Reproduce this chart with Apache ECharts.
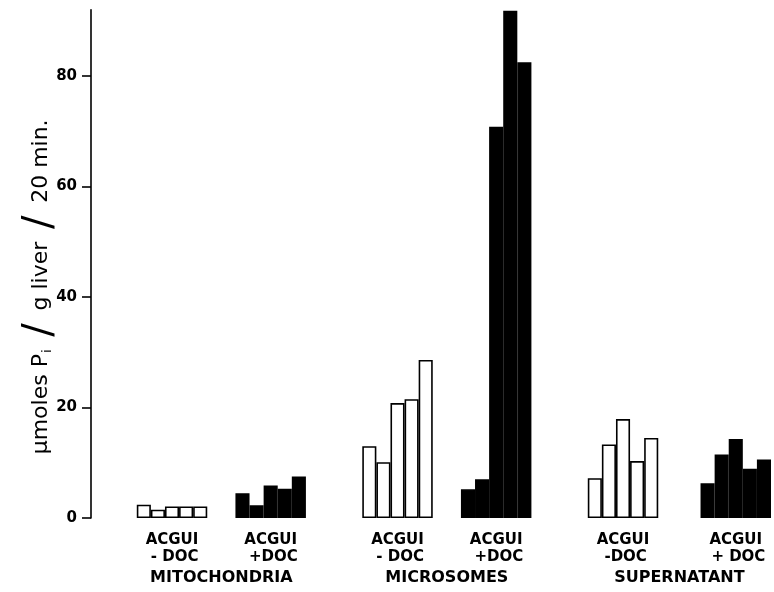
<!DOCTYPE html>
<html>
<head>
<meta charset="utf-8">
<script src="https://cdn.jsdelivr.net/npm/echarts@6/dist/echarts.min.js"></script>
<style>
  html, body { margin: 0; padding: 0; background: #fff; }
  #chart { width: 774px; height: 592px; }
</style>
</head>
<body>
<div id="chart"></div>
<script>
// values (umoles Pi / g liver / 20 min), 5 bars per group
var mitoMinus  = [2.4, 1.5, 2.1, 2.1, 2.1];
var mitoPlus   = [4.5, 2.3, 5.9, 5.3, 7.5];
var microMinus = [13.0, 10.1, 20.8, 21.5, 28.6];
var microPlus  = [5.2, 7.0, 70.8, 91.8, 82.5];
var superMinus = [7.2, 13.3, 17.9, 10.3, 14.5];
var superPlus  = [6.3, 11.5, 14.3, 8.9, 10.6];

var groupLabels = ['ACGUI\n - DOC', 'ACGUI\n +DOC', 'ACGUI\n - DOC', 'ACGUI\n +DOC', 'ACGUI\n -DOC', 'ACGUI\n + DOC'];
var fractionNames = ['MITOCHONDRIA', 'MICROSOMES', 'SUPERNATANT'];
var yTicks = [0, 20, 40, 60, 80];

// layout: empty slots before the first group and between groups
var leadBlank = 3;
var gapsAfter = [2, 4, 2, 4, 3, 0];

var groups = [mitoMinus, mitoPlus, microMinus, microPlus, superMinus, superPlus];
var filled = [false, true, false, true, false, true];

var cats = [], openData = [], solidData = [];
function blank() { cats.push(''); openData.push(null); solidData.push(null); }
for (var b = 0; b < leadBlank; b++) blank();
groups.forEach(function (g, gi) {
    g.forEach(function (v, i) {
        cats.push(i === 2 ? groupLabels[gi] : '');
        openData.push(filled[gi] ? null : v);
        solidData.push(filled[gi] ? v : null);
    });
    for (var k = 0; k < gapsAfter[gi]; k++) blank();
});

// second axis (half-slot resolution) carrying the fraction names
var nSlots = cats.length;
var halfCats = [];
for (var h = 0; h <= nSlots * 2; h++) halfCats.push('');
halfCats[18] = fractionNames[0];
halfCats[50] = fractionNames[1];
halfCats[83] = fractionNames[2];

var font = 'DejaVu Sans';
var chart = echarts.init(document.getElementById('chart'), null, { renderer: 'canvas' });

chart.setOption({
    animation: false,
    backgroundColor: '#fff',
    grid: { left: 94.5, right: -1, top: 9.7, bottom: 74, containLabel: false },
    xAxis: [{
        type: 'category',
        data: cats,
        boundaryGap: true,
        axisLine: { show: false },
        axisTick: { show: false },
        axisLabel: {
            interval: 0, margin: 14,
            color: '#000', fontFamily: font, fontSize: 15, lineHeight: 17, fontWeight: 'bold'
        }
    }, {
        type: 'category',
        data: halfCats,
        boundaryGap: false,
        position: 'bottom',
        axisLine: { show: false },
        axisTick: { show: false },
        axisLabel: {
            interval: 0, margin: 52,
            color: '#000', fontFamily: font, fontSize: 16, fontWeight: 'bold'
        }
    }],
    yAxis: {
        type: 'value',
        min: 0, max: 92, interval: 20,
        offset: 3.5,
        axisLine: { show: true, lineStyle: { color: '#000', width: 1.6 } },
        axisTick: { show: true, length: 9, lineStyle: { color: '#000', width: 1.6 }, customValues: yTicks },
        axisLabel: {
            margin: 14, customValues: yTicks,
            color: '#000', fontFamily: font, fontSize: 15, fontWeight: 'bold'
        },
        splitLine: { show: false },
        name: '{t|\u03bcmoles P}{s|i}{sl| / }{t|g liver}{sl| / }{t|20 min.}',
        nameLocation: 'middle',
        nameRotate: 90,
        nameGap: 30,
        nameMoveOverlap: false,
        nameTextStyle: {
            padding: [0, 46, 0, 0],
            rich: {
                t: { fontFamily: font, fontSize: 22, fontWeight: 500, color: '#000' },
                s: { fontFamily: font, fontSize: 13, color: '#000', padding: [14, 0, 0, 1] },
                sl: { fontFamily: font, fontSize: 40, color: '#000' }
            }
        }
    },
    series: [{
        name: '- DOC',
        type: 'bar',
        data: openData,
        barCategoryGap: '0%',
        barGap: '-100%',
        itemStyle: { color: '#fff', borderColor: '#000', borderWidth: 1.6 }
    }, {
        name: '+DOC',
        type: 'bar',
        data: solidData,
        barCategoryGap: '0%',
        barGap: '-100%',
        itemStyle: { color: '#000', borderColor: '#000', borderWidth: 1.6 }
    }]
});
</script>
</body>
</html>
